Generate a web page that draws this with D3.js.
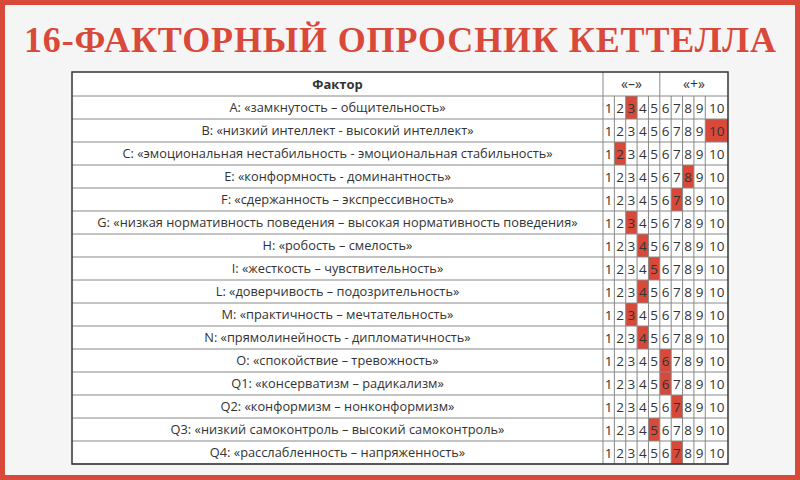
<!DOCTYPE html><html><head><meta charset="utf-8"><script src="https://cdn.jsdelivr.net/npm/d3@7"></script>
<style>body{margin:0;background:#f5f5f5}svg{display:block}</style></head><body><svg width="800" height="480"></svg>
<script>
const title = "16-ФАКТОРНЫЙ ОПРОСНИК  КЕТТЕЛЛА";
const factors = ["A: «замкнутость – общительность»","B: «низкий интеллект - высокий интеллект»","C: «эмоциональная нестабильность - эмоциональная стабильность»","E: «конформность - доминантность»","F: «сдержанность – экспрессивность»","G: «низкая нормативность поведения – высокая нормативность поведения»","H: «робость – смелость»","I: «жесткость – чувствительность»","L: «доверчивость – подозрительность»","M: «практичность – мечтательность»","N: «прямолинейность - дипломатичность»","O: «спокойствие – тревожность»","Q1: «консерватизм – радикализм»","Q2: «конформизм – нонконформизм»","Q3: «низкий самоконтроль – высокий самоконтроль»","Q4: «расслабленность – напряженность»"];
const scores = [3,10,2,8,7,3,4,5,4,3,4,6,6,7,5,7];
const levels = [1,2,3,4,5,6,7,8,9,10];
const groups = ["«–»","«+»"];

const svg = d3.select("svg");
const red = "#d9493a";
svg.append("rect").attr("x",2.5).attr("y",2.5).attr("width",795).attr("height",475).attr("fill","#f5f5f5").attr("stroke",red).attr("stroke-width",5);
svg.append("text").attr("x",400).attr("y",52).attr("text-anchor","middle").attr("fill",red).attr("font-weight","bold")
  .attr("font-family","Liberation Serif, serif").attr("font-size",36).attr("textLength",752).text(title);

const L=72,R=728,T=72,H=96,B=464,FX=603;
const y = d3.scaleBand().domain(d3.range(factors.length)).range([H,B]);
const units = levels.map(v=>v===10?2:1);
const starts = units.map((u,i)=>d3.sum(units.slice(0,i)));
const x = d3.scaleLinear().domain([0,d3.sum(units)]).range([FX,R]);
const g = svg.append("g").attr("font-family","Open Sans, sans-serif");
g.append("rect").attr("x",L).attr("y",T).attr("width",R-L).attr("height",B-T).attr("fill","#fff");
g.selectAll("rect.hl").data(scores).join("rect").attr("class","hl")
 .attr("x",d=>x(starts[d-1])).attr("y",(d,i)=>y(i)).attr("width",d=>x(starts[d-1]+units[d-1])-x(starts[d-1])).attr("height",y.bandwidth()).attr("fill",red);
const grid="#888";
g.selectAll("line.h").data(d3.range(factors.length+1)).join("line")
 .attr("x1",L).attr("x2",R).attr("y1",i=>i<factors.length?y(i):B).attr("y2",i=>i<factors.length?y(i):B).attr("stroke",grid);
levels.forEach((v,i)=>{ if(i===0) return; g.append("line").attr("x1",x(starts[i])).attr("x2",x(starts[i])).attr("y1",i===5?T:H).attr("y2",B).attr("stroke",grid);});
g.append("line").attr("x1",FX).attr("x2",FX).attr("y1",T).attr("y2",B).attr("stroke",grid);
g.append("rect").attr("x",L).attr("y",T).attr("width",R-L).attr("height",B-T).attr("fill","none").attr("stroke","#333").attr("stroke-width",1.5);
g.append("text").attr("x",(L+FX)/2).attr("y",89).attr("text-anchor","middle").attr("font-weight","bold").attr("font-size",13).attr("fill","#333").text("Фактор");
g.append("text").attr("x",(FX+x(starts[5]))/2).attr("y",89).attr("text-anchor","middle").attr("font-size",14).attr("fill","#333").text(groups[0]);
g.append("text").attr("x",(x(starts[5])+R)/2).attr("y",89).attr("text-anchor","middle").attr("font-size",14).attr("fill","#333").text(groups[1]);
g.selectAll("text.f").data(factors).join("text").attr("class","f").attr("x",(L+FX)/2).attr("y",(d,i)=>y(i)+y.bandwidth()/2+4.5)
 .attr("text-anchor","middle").attr("font-size",12.8).attr("fill","#333").text(d=>d);
factors.forEach((f,r)=>{ levels.forEach((v,i)=>{ g.append("text").attr("x",(x(starts[i])+x(starts[i]+units[i]))/2).attr("y",y(r)+y.bandwidth()/2+5)
 .attr("text-anchor","middle").attr("font-size",13.5).attr("fill","#333").text(v);});});
</script></body></html>
